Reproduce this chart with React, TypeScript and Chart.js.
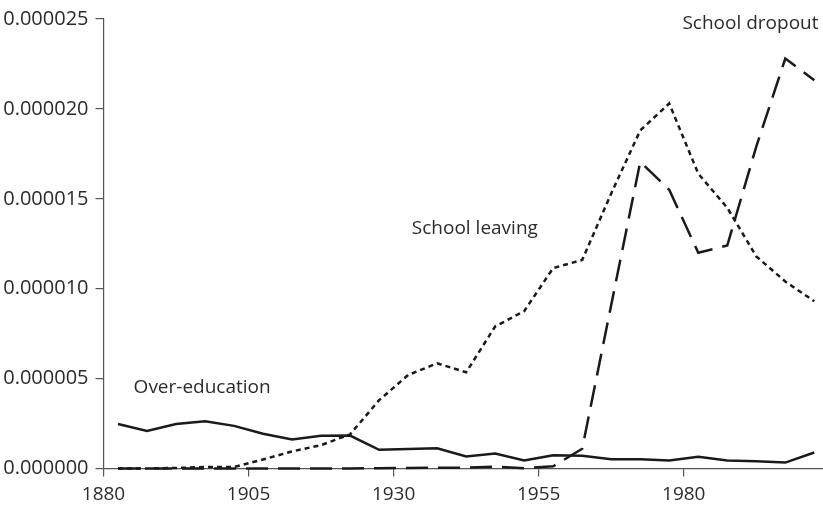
import React, { useEffect, useRef } from "react";
import { Chart, registerables } from "chart.js";

Chart.register(...registerables);

const years = [
  1882.5, 1887.5, 1892.5, 1897.5, 1902.5, 1907.5, 1912.5, 1917.5, 1922.5, 1927.5,
  1932.5, 1937.5, 1942.5, 1947.5, 1952.5, 1957.5, 1962.5, 1967.5, 1972.5, 1977.5,
  1982.5, 1987.5, 1992.5, 1997.5, 2002.5,
];

// values in units of 1e-6
const overEducation = [
  2.47, 2.09, 2.47, 2.63, 2.37, 1.93, 1.61, 1.82, 1.83, 1.04,
  1.09, 1.13, 0.67, 0.83, 0.44, 0.74, 0.71, 0.52, 0.52, 0.44,
  0.65, 0.44, 0.41, 0.33, 0.89,
];

const schoolLeaving = [
  0.0, 0.0, 0.03, 0.08, 0.08, 0.5, 0.95, 1.3, 1.9, 3.8,
  5.2, 5.85, 5.35, 7.9, 8.75, 11.15, 11.6, 15.3, 18.8, 20.3,
  16.4, 14.5, 11.8, 10.4, 9.3,
];

const schoolDropout = [
  0.0, 0.0, 0.0, 0.0, 0.0, 0.0, 0.0, 0.0, 0.0, 0.02,
  0.03, 0.04, 0.05, 0.1, 0.02, 0.12, 1.1, 9.1, 17.05, 15.5,
  12.0, 12.4, 17.9, 22.8, 21.6,
];

const yTicks = [0, 0.000005, 0.00001, 0.000015, 0.00002, 0.000025];
const xTicks = [1880, 1905, 1930, 1955, 1980];

const labelTexts = ["Over-education", "School leaving", "School dropout"];
const labelYears = [1897, 1944, 1991.5];
const labelValues = [4.5e-6, 13.33e-6, 24.75e-6];

const FONT = "'Open Sans', 'Noto Sans', sans-serif";

export default function App() {
  const ref = useRef<HTMLCanvasElement | null>(null);

  useEffect(() => {
    document.body.style.margin = "0";
    const canvas = ref.current;
    if (!canvas) return;

    const toPts = (vals: number[]) => years.map((x, i) => ({ x, y: vals[i] * 1e-6 }));

    const labelPlugin = {
      id: "lineLabels",
      afterDatasetsDraw(chart: any) {
        const { ctx, scales } = chart;
        ctx.save();
        ctx.fillStyle = "#2b2b2b";
        ctx.font = `19px ${FONT}`;
        ctx.textAlign = "center";
        ctx.textBaseline = "middle";
        labelTexts.forEach((t, i) => {
          ctx.fillText(t, scales.x.getPixelForValue(labelYears[i]), scales.y.getPixelForValue(labelValues[i]));
        });
        ctx.restore();
      },
    };

    const chart = new Chart(canvas, {
      type: "line",
      data: {
        datasets: [
          {
            label: "Over-education",
            data: toPts(overEducation),
            borderColor: "#1a1a1a",
            borderWidth: 2.5,
            pointRadius: 0,
            tension: 0,
          },
          {
            label: "School leaving",
            data: toPts(schoolLeaving),
            borderColor: "#1a1a1a",
            borderWidth: 2.5,
            borderDash: [5, 4],
            pointRadius: 0,
            tension: 0,
          },
          {
            label: "School dropout",
            data: toPts(schoolDropout),
            borderColor: "#1a1a1a",
            borderWidth: 2.5,
            borderDash: [22, 10],
            pointRadius: 0,
            tension: 0,
          },
        ],
      },
      options: {
        animation: false,
        responsive: false,
        maintainAspectRatio: false,
        clip: false as any,
        layout: { padding: { top: 18, right: 0, left: 0, bottom: 0 } },
        plugins: { legend: { display: false }, tooltip: { enabled: false } },
        scales: {
          x: {
            type: "linear",
            min: 1880,
            max: 2004,
            afterBuildTicks: (scale: any) => {
              scale.ticks = xTicks.map((v) => ({ value: v }));
            },
            afterFit: (scale: any) => {
              scale.height = 37.5;
            },
            grid: { display: true, drawOnChartArea: false, drawTicks: true, tickLength: 8, color: "#555", lineWidth: 1.2 },
            border: { display: true, color: "#555", width: 1.2 },
            ticks: {
              color: "#2b2b2b",
              font: { family: FONT, size: 19 },
              padding: 7,
              maxRotation: 0,
              callback: (v: any) => String(v),
            },
          },
          y: {
            type: "linear",
            min: 0,
            max: 0.000025,
            afterBuildTicks: (scale: any) => {
              scale.ticks = yTicks.map((v) => ({ value: v }));
            },
            afterFit: (scale: any) => {
              scale.width = 103.5;
            },
            grid: { display: true, drawOnChartArea: false, drawTicks: true, tickLength: 8, color: "#555", lineWidth: 1.2 },
            border: { display: true, color: "#555", width: 1.2 },
            ticks: {
              color: "#2b2b2b",
              font: { family: FONT, size: 20 },
              padding: 7,
              callback: (v: any) => Number(v).toFixed(6),
            },
          },
        },
      },
      plugins: [labelPlugin],
    });

    return () => chart.destroy();
  }, []);

  return (
    <div style={{ width: 823, height: 506 }}>
      <canvas ref={ref} width={823} height={506} style={{ display: "block", width: 823, height: 506 }} />
    </div>
  );
}
